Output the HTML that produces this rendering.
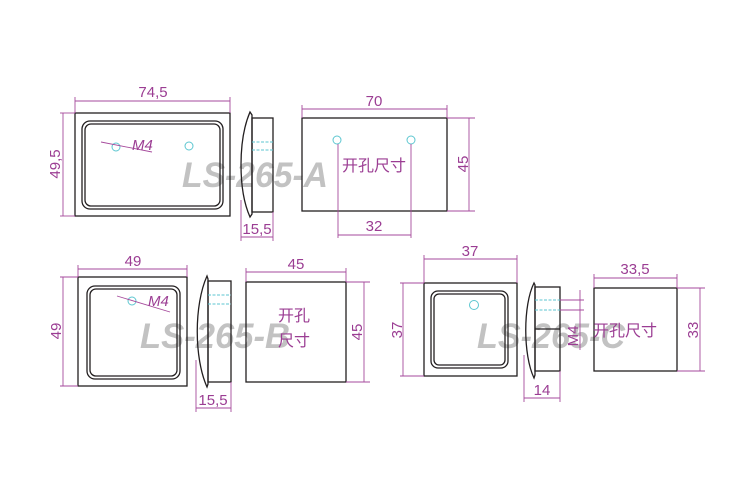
<!DOCTYPE html>
<html><head><meta charset="utf-8"><style>
html,body{margin:0;padding:0;background:#fff;}
svg{display:block}
.o{fill:none;stroke:#231f20;stroke-width:1.3}
.d{fill:none;stroke:#a64a9c;stroke-width:0.9}
.c{fill:none;stroke:#5cc6d0;stroke-width:1}
.cd{fill:none;stroke:#5cc6d0;stroke-width:1;stroke-dasharray:3 1.5}
.t{fill:#9b3d93;font-family:"Liberation Sans",sans-serif;font-size:15px}
.z{fill:#9b3d93;font-family:"Liberation Sans","Noto Sans CJK SC",sans-serif;font-size:16px}
.g{fill:#c2c2c2;font-family:"Liberation Sans",sans-serif;font-size:35px;font-style:italic;font-weight:bold}
</style></head><body>
<svg width="750" height="500" viewBox="0 0 750 500" xmlns="http://www.w3.org/2000/svg">
<!-- A front -->
<text class="g" x="182" y="187" textLength="146" lengthAdjust="spacingAndGlyphs">LS-265-A</text>
<rect class="o" x="75" y="113" width="155" height="103"/>
<rect class="o" x="82" y="121" width="141" height="88" rx="8"/>
<rect class="o" x="85" y="124" width="135" height="82" rx="6"/>
<circle class="c" cx="116" cy="147" r="4"/>
<circle class="c" cx="189" cy="146" r="4"/>
<line class="d" x1="101" y1="142" x2="152" y2="152"/>
<text class="t" x="132" y="150" font-style="italic">M4</text>
<line class="d" x1="75" y1="101" x2="230" y2="101"/>
<line class="d" x1="75" y1="97" x2="75" y2="113"/>
<line class="d" x1="230" y1="97" x2="230" y2="113"/>
<text class="t" x="153" y="97" text-anchor="middle">74,5</text>
<line class="d" x1="63" y1="113" x2="63" y2="216"/>
<line class="d" x1="60" y1="113" x2="75" y2="113"/>
<line class="d" x1="60" y1="216" x2="75" y2="216"/>
<text class="t" transform="translate(60,164) rotate(-90)" text-anchor="middle">49,5</text>
<!-- A side -->
<path class="o" d="M250,112 C238,140 238,190 250,217 L252,214 L252,115 Z"/>
<rect class="o" x="252" y="118" width="21" height="94"/>
<line class="cd" x1="252" y1="142" x2="273" y2="142"/>
<line class="cd" x1="252" y1="150" x2="273" y2="150"/>
<line class="d" x1="241" y1="200" x2="241" y2="241"/>
<line class="d" x1="273" y1="212" x2="273" y2="241"/>
<line class="d" x1="241" y1="237" x2="273" y2="237"/>
<text class="t" x="257" y="234" text-anchor="middle">15,5</text>
<!-- A cutout -->
<rect class="o" x="302" y="118" width="145" height="93"/>
<circle class="c" cx="337" cy="140" r="4"/>
<circle class="c" cx="411" cy="140" r="4"/>
<line class="d" x1="338" y1="144" x2="338" y2="238"/>
<line class="d" x1="411" y1="144" x2="411" y2="238"/>
<line class="d" x1="338" y1="235" x2="411" y2="235"/>
<text class="t" x="374" y="231" text-anchor="middle">32</text>
<line class="d" x1="302" y1="109" x2="447" y2="109"/>
<line class="d" x1="302" y1="105" x2="302" y2="118"/>
<line class="d" x1="447" y1="105" x2="447" y2="118"/>
<text class="t" x="374" y="106" text-anchor="middle">70</text>
<line class="d" x1="469" y1="118" x2="469" y2="211"/>
<line class="d" x1="447" y1="118" x2="475" y2="118"/>
<line class="d" x1="447" y1="211" x2="475" y2="211"/>
<text class="t" transform="translate(468,164) rotate(-90)" text-anchor="middle">45</text>
<text class="z" x="374" y="171" text-anchor="middle">开孔尺寸</text>

<!-- B front -->
<text class="g" x="140" y="348" textLength="150" lengthAdjust="spacingAndGlyphs">LS-265-B</text>
<rect class="o" x="78" y="277" width="109" height="109"/>
<rect class="o" x="87" y="286" width="93" height="93" rx="8"/>
<rect class="o" x="90" y="289" width="87" height="87" rx="6"/>
<circle class="c" cx="132" cy="301" r="4"/>
<line class="d" x1="117" y1="296" x2="170" y2="312"/>
<text class="t" x="148" y="306" font-style="italic">M4</text>
<line class="d" x1="78" y1="269" x2="187" y2="269"/>
<line class="d" x1="78" y1="265" x2="78" y2="277"/>
<line class="d" x1="187" y1="265" x2="187" y2="277"/>
<text class="t" x="133" y="266" text-anchor="middle">49</text>
<line class="d" x1="63" y1="277" x2="63" y2="386"/>
<line class="d" x1="60" y1="277" x2="78" y2="277"/>
<line class="d" x1="60" y1="386" x2="78" y2="386"/>
<text class="t" transform="translate(61,331) rotate(-90)" text-anchor="middle">49</text>
<!-- B side -->
<path class="o" d="M207,276 C194,305 194,358 207,387 L208,384 L208,279 Z"/>
<rect class="o" x="208" y="281" width="23" height="101"/>
<line class="cd" x1="208" y1="295" x2="231" y2="295"/>
<line class="cd" x1="208" y1="304" x2="231" y2="304"/>
<line class="d" x1="196" y1="360" x2="196" y2="412"/>
<line class="d" x1="231" y1="382" x2="231" y2="412"/>
<line class="d" x1="196" y1="408" x2="231" y2="408"/>
<text class="t" x="213" y="405" text-anchor="middle">15,5</text>
<!-- B cutout -->
<rect class="o" x="246" y="282" width="100" height="100"/>
<line class="d" x1="246" y1="272" x2="346" y2="272"/>
<line class="d" x1="246" y1="268" x2="246" y2="282"/>
<line class="d" x1="346" y1="268" x2="346" y2="282"/>
<text class="t" x="296" y="269" text-anchor="middle">45</text>
<line class="d" x1="364" y1="282" x2="364" y2="382"/>
<line class="d" x1="346" y1="282" x2="370" y2="282"/>
<line class="d" x1="346" y1="382" x2="370" y2="382"/>
<text class="t" transform="translate(362,332) rotate(-90)" text-anchor="middle">45</text>
<text class="z" x="294" y="321" text-anchor="middle">开孔</text>
<text class="z" x="294" y="346" text-anchor="middle">尺寸</text>

<!-- C front -->
<text class="g" x="477" y="348" textLength="148" lengthAdjust="spacingAndGlyphs">LS-265-C</text>
<rect class="o" x="424" y="283" width="93" height="93"/>
<rect class="o" x="431" y="291" width="77" height="77" rx="7"/>
<rect class="o" x="434" y="294" width="71" height="71" rx="5"/>
<circle class="c" cx="474" cy="305" r="4.5"/>
<line class="d" x1="424" y1="259" x2="517" y2="259"/>
<line class="d" x1="424" y1="255" x2="424" y2="283"/>
<line class="d" x1="517" y1="255" x2="517" y2="283"/>
<text class="t" x="470" y="256" text-anchor="middle" font-size="16">37</text>
<line class="d" x1="403" y1="283" x2="403" y2="376"/>
<line class="d" x1="400" y1="283" x2="424" y2="283"/>
<line class="d" x1="400" y1="376" x2="424" y2="376"/>
<text class="t" transform="translate(402,330) rotate(-90)" text-anchor="middle" font-size="16">37</text>
<!-- C side -->
<path class="o" d="M534,283 C523,305 523,355 534,378 L535,375 L535,285 Z"/>
<rect class="o" x="535" y="287" width="25" height="84"/>
<line class="o" x1="535" y1="329" x2="560" y2="329"/>
<line class="cd" x1="535" y1="300" x2="560" y2="300"/>
<line class="cd" x1="535" y1="310" x2="560" y2="310"/>
<line class="d" x1="560" y1="300" x2="584" y2="300"/>
<line class="d" x1="560" y1="310" x2="584" y2="310"/>
<line class="d" x1="580" y1="290" x2="580" y2="350"/>
<text class="t" transform="translate(578,336) rotate(-90)" text-anchor="middle" font-size="16">M4</text>
<line class="d" x1="524" y1="355" x2="524" y2="402"/>
<line class="d" x1="560" y1="371" x2="560" y2="402"/>
<line class="d" x1="524" y1="398" x2="560" y2="398"/>
<text class="t" x="542" y="395" text-anchor="middle" font-size="16">14</text>
<!-- C cutout -->
<rect class="o" x="594" y="288" width="83" height="83"/>
<line class="d" x1="594" y1="278" x2="677" y2="278"/>
<line class="d" x1="594" y1="274" x2="594" y2="288"/>
<line class="d" x1="677" y1="274" x2="677" y2="288"/>
<text class="t" x="635" y="274" text-anchor="middle" font-size="16">33,5</text>
<line class="d" x1="700" y1="288" x2="700" y2="371"/>
<line class="d" x1="677" y1="288" x2="705" y2="288"/>
<line class="d" x1="677" y1="371" x2="705" y2="371"/>
<text class="t" transform="translate(698,330) rotate(-90)" text-anchor="middle" font-size="16">33</text>
<text class="z" x="625" y="336" text-anchor="middle" font-size="14">开孔尺寸</text>
</svg>
</body></html>
